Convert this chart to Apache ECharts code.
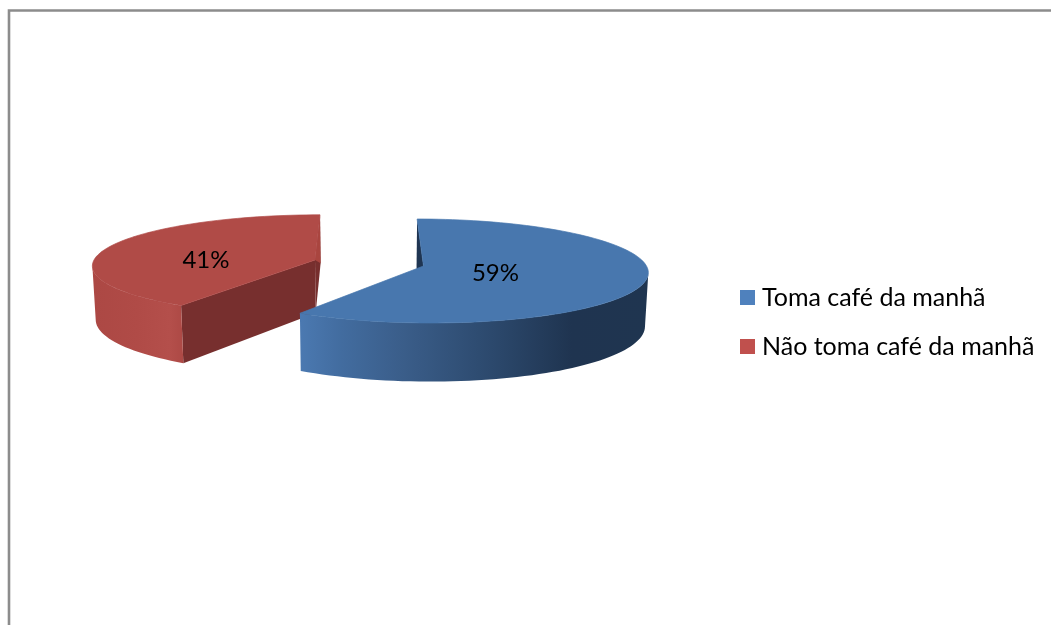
<!DOCTYPE html>
<html>
<head>
<meta charset="utf-8">
<style>html,body{margin:0;padding:0;background:#fff}#c{width:1051px;height:625px}</style>
<script src="https://cdn.jsdelivr.net/npm/echarts@6/dist/echarts.min.js"></script>
</head>
<body>
<div id="c"></div>
<script>
const categories = ['Toma café da manhã', 'Não toma café da manhã'];
const values = [59, 41];
const legendColors = ['#4f81bd', '#c0504d'];

const total = values.reduce((a, b) => a + b, 0);
const persp = 0.096, thick = 53, vanishX = 370, STEP = 2;

const slices = [
  { cx: 423.5, cy: 266, rx: 223, ry: 51.5, skew: -7, top: '#4877ae',
    face: '#1f3552', sliver: '#1f3552', labelR: 0.33, labelDy: 2, order: ['wall', 'startFace', 'top'],
    wall: [[0, '#4b79b1'], [0.12, '#426c9f'], [0.3, '#3a5d89'], [0.55, '#2c496d'], [0.78, '#1f3450'], [1, '#1f3550']] },
  { cx: 315, cy: 260, rx: 221, ry: 49.5, skew: 5.5, top: '#b04b47',
    face: '#772f2e', sliver: '#a9453f', labelR: 0.525, labelDy: 7, order: ['startFace', 'endFace', 'sliver', 'wall', 'top'],
    wall: [[0, '#ac4844'], [0.5, '#b04b47'], [0.85, '#b44f4b'], [1, '#ad4945']] }
];

function project(s, deg, r, z) {
  const a = deg * Math.PI / 180;
  const u = r * Math.sin(a), v = r * Math.cos(a);
  const sc = 1 / (1 + persp * v);
  let x = s.cx + (s.rx * u + s.skew * v) * sc;
  const y = s.cy - s.ry * v * sc + z * thick * sc;
  if (z) x = vanishX + (x - vanishX) * 0.988;
  return [x, y];
}

function arc(s, a0, a1, z) {
  const pts = [];
  const n = Math.max(2, Math.ceil(Math.abs(a1 - a0) / STEP));
  for (let i = 0; i <= n; i++) pts.push(project(s, a0 + (a1 - a0) * i / n, 1, z));
  return pts;
}

// The two angles at which the rim turns, so only its front-facing part gets a wall.
function silhouette(s) {
  let right = 0, left = 0, maxX = -Infinity, minX = Infinity;
  for (let d = 0; d < 360; d += 0.5) {
    const x = project(s, d, 1, 0)[0];
    if (x > maxX) { maxX = x; right = d; }
    if (x < minX) { minX = x; left = d; }
  }
  return [right, left];
}

function poly(points, fill, stroke) {
  const style = { fill };
  if (stroke) { style.stroke = stroke; style.lineWidth = 0.7; }
  return { type: 'polygon', silent: true, shape: { points }, style };
}

function makeRender(idx) {
  const s = slices[idx];
  return function (params, api) {
    const val = api.value(0);
    const before = values.slice(0, idx).reduce((a, b) => a + b, 0);
    const a0 = 360 * before / total, a1 = a0 + 360 * val / total;
    const sil = silhouette(s);
    const w0 = Math.max(a0, sil[0]), w1 = Math.min(a1, sil[1]);
    const cutFace = a => poly([project(s, a, 0, 0), project(s, a, 1, 0), project(s, a, 1, 1), project(s, a, 0, 1)], s.face);
    const parts = {
      wall: () => poly(arc(s, w0, w1, 0).concat(arc(s, w1, w0, 1)),
        new echarts.graphic.LinearGradient(0, 0, 1, 0, s.wall.map(w => ({ offset: w[0], color: w[1] })))),
      startFace: () => cutFace(a0),
      endFace: () => cutFace(a1),
      sliver: () => poly([project(s, a1, 0, 0), project(s, a1, 1, 0), project(s, a1, 1, 1)], s.sliver),
      top: () => poly([project(s, a0, 0, 0)].concat(arc(s, a0, a1, 0)), s.top, s.top)
    };
    const children = s.order.map(k => parts[k]());
    const mid = (a0 + a1) / 2;
    const lp = project(s, mid, s.labelR, 0);
    children.push({
      type: 'text', silent: true, x: lp[0], y: lp[1] + s.labelDy,
      style: { text: Math.round(val / total * 100) + '%', fill: '#000', font: '24px Lato, sans-serif', align: 'center', verticalAlign: 'middle' }
    });
    return { type: 'group', children };
  };
}

const chart = echarts.init(document.getElementById('c'), null, { renderer: 'canvas' });
chart.setOption({
  animation: false,
  backgroundColor: '#fff',
  graphic: [{
    type: 'polyline', silent: true,
    shape: { points: [[9, 625], [9, 10.5], [1051, 10.5]] },
    style: { stroke: '#8c8c8c', lineWidth: 2.6, fill: 'none' }
  }],
  legend: {
    orient: 'vertical', left: 735, top: 280, itemWidth: 15, itemHeight: 15, itemGap: 24,
    icon: 'rect', selectedMode: false,
    data: categories,
    textStyle: { fontFamily: 'Lato, sans-serif', fontSize: 25, color: '#000', padding: [0, 0, 0, 2] }
  },
  series: categories.map((name, i) => ({
    type: 'custom', name, coordinateSystem: 'none', z: 3 - i, silent: true,
    itemStyle: { color: legendColors[i] },
    renderItem: makeRender(i),
    data: [[values[i]]]
  }))
});
</script>
</body>
</html>
